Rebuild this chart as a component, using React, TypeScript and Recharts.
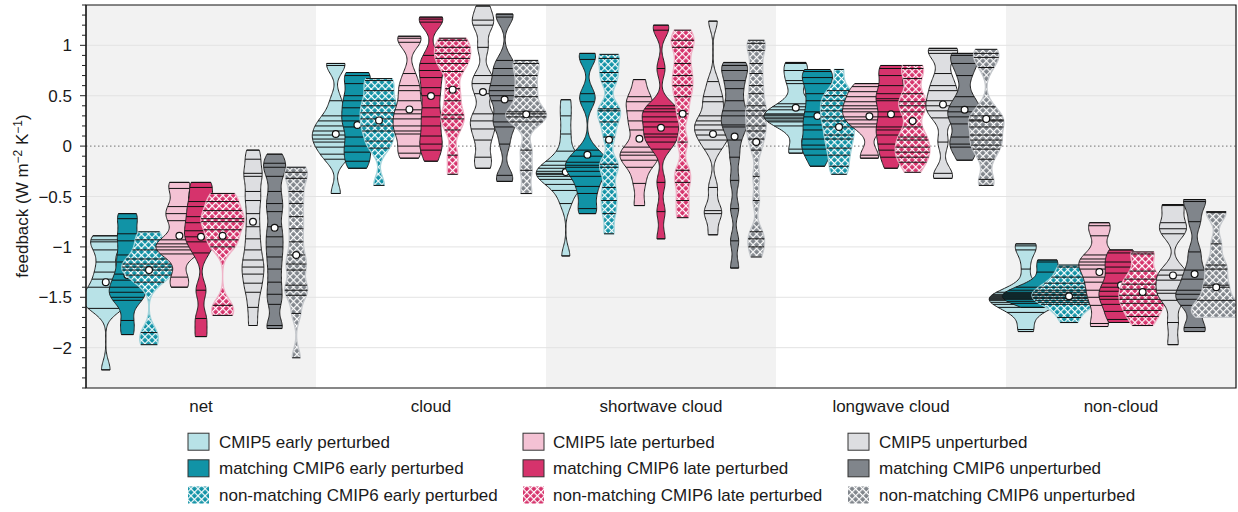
import React from 'react';
import {
  ComposedChart,
  XAxis,
  YAxis,
  Scatter,
  ReferenceLine,
  ReferenceArea,
  ReferenceDot
} from 'recharts';

const W = 1238;
const H = 512;
const FONT = '"Liberation Sans", Arial, Helvetica, sans-serif';

const categories = ['net', 'cloud', 'shortwave cloud', 'longwave cloud', 'non-cloud'];

const seriesNames = [
  'CMIP5 early perturbed',
  'matching CMIP6 early perturbed',
  'non-matching CMIP6 early perturbed',
  'CMIP5 late perturbed',
  'matching CMIP6 late perturbed',
  'non-matching CMIP6 late perturbed',
  'CMIP5 unperturbed',
  'matching CMIP6 unperturbed',
  'non-matching CMIP6 unperturbed'
];

// feedback of each model (W m-2 K-1), one list per violin, in legend order
const netValues = [
  [-0.89, -0.93, -0.95, -1.03, -1.15, -1.25, -1.32, -1.4, -1.45, -1.49, -1.52, -1.56, -1.59, -1.61, -2.22],
  [-0.67, -0.72, -0.87, -0.94, -1.08, -1.15, -1.27, -1.33, -1.4, -1.45, -1.5, -1.53, -1.73, -1.87],
  [-0.85, -0.93, -1.03, -1.12, -1.17, -1.2, -1.23, -1.28, -1.35, -1.85, -1.97],
  [-0.36, -0.42, -0.6, -0.67, -0.74, -0.93, -0.97, -1.0, -1.03, -1.07, -1.3, -1.4],
  [-0.36, -0.41, -0.55, -0.6, -0.7, -0.76, -0.84, -0.9, -0.95, -1.06, -1.43, -1.71, -1.89],
  [-0.47, -0.55, -0.64, -0.72, -0.75, -0.83, -0.93, -1.0, -1.58, -1.68],
  [-0.04, -0.13, -0.27, -0.3, -0.45, -0.54, -0.67, -0.8, -0.92, -1.03, -1.13, -1.2, -1.27, -1.36, -1.45, -1.6, -1.78],
  [-0.08, -0.17, -0.21, -0.3, -0.45, -0.57, -0.65, -0.8, -0.9, -1.0, -1.1, -1.22, -1.35, -1.47, -1.57, -1.78, -1.81],
  [-0.21, -0.26, -0.32, -0.45, -0.57, -0.7, -0.82, -0.95, -1.08, -1.17, -1.23, -1.38, -1.43, -1.48, -1.66, -2.1]
];
const cloudValues = [
  [0.82, 0.8, 0.45, 0.3, 0.25, 0.2, 0.15, 0.11, 0.07, 0.04, -0.01, -0.08, -0.13, -0.47],
  [0.73, 0.7, 0.62, 0.5, 0.45, 0.38, 0.3, 0.25, 0.19, 0.09, 0.0, -0.06, -0.15, -0.22],
  [0.67, 0.65, 0.55, 0.45, 0.4, 0.33, 0.27, 0.2, 0.15, 0.05, -0.02, -0.39],
  [1.09, 1.07, 1.03, 0.72, 0.6, 0.55, 0.45, 0.36, 0.32, 0.27, 0.2, 0.15, 0.12, 0.0, -0.07, -0.12],
  [1.28, 1.26, 1.23, 0.9, 0.82, 0.75, 0.68, 0.58, 0.5, 0.38, 0.29, 0.2, 0.1, 0.02, -0.04, -0.15],
  [1.07, 1.05, 0.98, 0.92, 0.87, 0.82, 0.74, 0.57, 0.45, 0.31, 0.27, 0.16, -0.09, -0.28],
  [1.39, 1.25, 1.2, 0.98, 0.7, 0.62, 0.52, 0.32, 0.25, 0.17, 0.06, -0.11, -0.22],
  [1.31, 1.28, 0.85, 0.77, 0.7, 0.6, 0.55, 0.5, 0.45, 0.32, 0.24, 0.19, 0.02, -0.29, -0.35],
  [0.85, 0.82, 0.7, 0.58, 0.49, 0.34, 0.32, 0.29, 0.24, -0.04, -0.24, -0.47]
];
const swCloudValues = [
  [0.46, 0.3, 0.12, -0.05, -0.15, -0.19, -0.22, -0.25, -0.27, -0.28, -0.3, -0.33, -0.38, -0.44, -0.57, -1.09],
  [0.92, 0.86, 0.52, 0.44, -0.04, -0.1, -0.16, -0.19, -0.21, -0.25, -0.3, -0.4, -0.47, -0.62, -0.67],
  [0.91, 0.87, 0.73, 0.64, 0.37, 0.35, 0.24, 0.09, -0.18, -0.21, -0.41, -0.54, -0.67, -0.87],
  [0.66, 0.49, 0.44, 0.35, 0.25, 0.16, -0.01, -0.06, -0.09, -0.14, -0.21, -0.37, -0.59],
  [1.2, 1.15, 0.77, 0.4, 0.37, 0.34, 0.29, 0.24, 0.19, 0.12, 0.09, 0.04, -0.03, -0.36, -0.65, -0.92],
  [1.15, 1.05, 0.98, 0.82, 0.7, 0.6, 0.49, 0.32, 0.04, -0.24, -0.36, -0.54, -0.71],
  [1.24, 0.64, 0.49, 0.44, 0.3, 0.25, 0.21, 0.16, 0.11, 0.06, -0.03, -0.41, -0.64, -0.67, -0.88],
  [0.83, 0.8, 0.75, 0.65, 0.57, 0.45, 0.35, 0.3, 0.21, 0.19, 0.06, -0.11, -0.34, -0.62, -0.94, -1.21],
  [1.05, 1.02, 0.95, 0.82, 0.72, 0.6, 0.52, 0.4, 0.35, 0.3, 0.2, 0.15, 0.07, -0.04, -0.3, -0.54, -0.85, -0.92, -1.0, -1.1]
];
const lwCloudValues = [
  [0.83, 0.82, 0.75, 0.65, 0.62, 0.42, 0.39, 0.36, 0.32, 0.31, 0.3, 0.28, 0.27, 0.25, 0.24, 0.2, -0.03, -0.07],
  [0.76, 0.74, 0.68, 0.62, 0.52, 0.45, 0.34, 0.29, 0.21, 0.16, 0.07, 0.01, -0.03, -0.09, -0.2],
  [0.76, 0.55, 0.5, 0.45, 0.4, 0.35, 0.29, 0.25, 0.19, 0.11, 0.07, -0.02, -0.09, -0.2, -0.28],
  [0.62, 0.59, 0.54, 0.49, 0.44, 0.4, 0.37, 0.34, 0.29, 0.26, 0.22, 0.19, -0.09, -0.12],
  [0.8, 0.77, 0.7, 0.6, 0.52, 0.47, 0.45, 0.34, 0.29, 0.19, 0.16, 0.11, 0.02, -0.04, -0.11, -0.22],
  [0.8, 0.77, 0.67, 0.52, 0.44, 0.4, 0.34, 0.19, 0.09, 0.06, -0.01, -0.06, -0.11, -0.16, -0.26],
  [0.97, 0.95, 0.92, 0.72, 0.6, 0.55, 0.45, 0.4, 0.35, 0.28, 0.04, -0.27, -0.32],
  [0.92, 0.9, 0.82, 0.7, 0.49, 0.39, 0.34, 0.29, 0.22, 0.09, 0.02, -0.01, -0.14],
  [0.96, 0.92, 0.88, 0.78, 0.39, 0.3, 0.26, 0.25, 0.19, 0.11, 0.06, 0.01, -0.03, -0.13, -0.33, -0.39]
];
const nonCloudValues = [
  [-0.97, -0.99, -1.03, -1.22, -1.45, -1.47, -1.48, -1.49, -1.5, -1.51, -1.52, -1.53, -1.55, -1.57, -1.6, -1.65, -1.82, -1.84],
  [-1.13, -1.15, -1.25, -1.4, -1.43, -1.45, -1.46, -1.47, -1.48, -1.49, -1.5, -1.51, -1.52, -1.54, -1.56, -1.6],
  [-1.18, -1.2, -1.3, -1.36, -1.4, -1.43, -1.45, -1.47, -1.48, -1.5, -1.51, -1.53, -1.55, -1.57, -1.7, -1.75],
  [-0.76, -0.79, -0.89, -1.08, -1.12, -1.15, -1.18, -1.22, -1.3, -1.35, -1.43, -1.5, -1.58, -1.76, -1.79],
  [-1.03, -1.06, -1.15, -1.2, -1.26, -1.36, -1.4, -1.44, -1.49, -1.52, -1.57, -1.64, -1.72, -1.75],
  [-1.05, -1.07, -1.24, -1.32, -1.37, -1.42, -1.48, -1.52, -1.56, -1.63, -1.69, -1.78],
  [-0.58, -0.59, -0.76, -0.82, -0.87, -1.23, -1.28, -1.33, -1.43, -1.46, -1.53, -1.75, -1.97],
  [-0.53, -0.55, -0.75, -1.05, -1.23, -1.32, -1.43, -1.47, -1.52, -1.58, -1.8, -1.84],
  [-0.65, -0.66, -0.97, -1.18, -1.22, -1.38, -1.4, -1.53, -1.58, -1.62, -1.65, -1.68, -1.7]
];

// ensemble means (white dots)
const netMeans = [-1.35, -1.28, -1.23, -0.89, -0.9, -0.89, -0.75, -0.81, -1.08];
const cloudMeans = [0.12, 0.21, 0.255, 0.364, 0.496, 0.56, 0.536, 0.463, 0.315];
const swCloudMeans = [-0.258, -0.086, 0.063, 0.073, 0.182, 0.321, 0.12, 0.096, 0.04];
const lwCloudMeans = [0.38, 0.298, 0.19, 0.295, 0.315, 0.248, 0.414, 0.36, 0.27];
const nonCloudMeans = [-1.5, -1.46, -1.49, -1.25, -1.38, -1.448, -1.283, -1.27, -1.4];

const groupValues = [netValues, cloudValues, swCloudValues, lwCloudValues, nonCloudValues];
const groupMeans = [netMeans, cloudMeans, swCloudMeans, lwCloudMeans, nonCloudMeans];

const yTicks = Array.from({ length: 39 }, (_, i) => (i - 24) / 10);
const gridValues = [-2, -1.5, -1, -0.5, 0.5, 1];

// styling
const tripletOffset = [-0.32, 0, 0.32];
const innerOffset = [-0.094, 0, 0.094];
const baseColors = ['#b8e2e7', '#1193a6', '#1193a6', '#f4c2d4', '#d6336c', '#d6336c', '#dddee1', '#80858b', '#80858b'];
const hatchIds = [null, null, 'hatch-teal', null, null, 'hatch-magenta', null, null, 'hatch-gray'];
const hatchEdge = ['', '', '#a3d5dc', '', '', '#efb3c7', '', '', '#c6c9cd'];
const BANDWIDTH = 0.09;
const WIDTH_SCALE = 14.5 / 230; // x units per unit of density

const density = (vals: number[], y: number) =>
  vals.reduce((a, v) => a + Math.exp(-0.5 * ((y - v) / BANDWIDTH) ** 2), 0) /
  (vals.length * BANDWIDTH * Math.sqrt(2 * Math.PI));

const violins = groupValues.flatMap((group, gi) =>
  group.map((vals, si) => {
    const center = gi + tripletOffset[Math.floor(si / 3)] + innerOffset[si % 3];
    const lo = Math.min(...vals);
    const hi = Math.max(...vals);
    const steps = Math.max(24, Math.ceil((hi - lo) / 0.012));
    const ys = Array.from({ length: steps + 1 }, (_, k) => lo + ((hi - lo) * k) / steps);
    const half = (y: number) => density(vals, y) * WIDTH_SCALE;
    const left = ys.map((y) => ({ x: center - half(y), y }));
    const right = ys.slice().reverse().map((y) => ({ x: center + half(y), y }));
    return {
      gi,
      si,
      center,
      outline: [...left, ...right, left[0]],
      lines: vals.map((v) => ({ v, w: half(v) })),
      mean: groupMeans[gi][si]
    };
  })
);

const fmt = (v: number) => {
  if (Math.abs(v) < 1e-9) return '0';
  const s = String(Math.round(Math.abs(v) * 10) / 10);
  return v < 0 ? '\u2212' + s : s;
};

const YTick = (props: any) => {
  const { x, y, payload } = props;
  const v = payload.value;
  const major = Math.abs(v * 2 - Math.round(v * 2)) < 1e-6;
  return (
    <g>
      <line x1={x} x2={x - (major ? 6 : 4)} y1={y} y2={y} stroke="#222" strokeWidth={1} />
      {major && (
        <text x={x - 14} y={y + 6} textAnchor="end" fontSize={17} fill="#1a1a1a" fontFamily={FONT}>
          {fmt(v)}
        </text>
      )}
    </g>
  );
};

const XTick = (props: any) => {
  const { x, y, payload } = props;
  return (
    <text x={x} y={y + 24} textAnchor="middle" fontSize={17} fill="#1a1a1a" fontFamily={FONT}>
      {categories[payload.value]}
    </text>
  );
};

const NoDot = () => <g />;

const Patterns = () => (
  <defs>
    {[
      ['hatch-teal', '#1193a6'],
      ['hatch-magenta', '#d6336c'],
      ['hatch-gray', '#80858b']
    ].map(([id, c]) => (
      <pattern key={id} id={id} patternUnits="userSpaceOnUse" width={5} height={5} patternTransform="rotate(45)">
        <rect width={5} height={5} fill={c} />
        <rect width={5} height={1.2} fill="#ffffff" />
        <rect width={1.2} height={5} fill="#ffffff" />
      </pattern>
    ))}
  </defs>
);

const swatchX = [188, 523, 848];
const textX = [219, 553, 879];
const rowY = [441.7, 468.3, 495];

export default function App() {
  const violinElements: React.ReactNode[] = [];
  violins.forEach((v, i) => {
    const z = 10 + i * 3;
    const hatched = hatchIds[v.si] !== null;
    violinElements.push(
      <Scatter
        key={`v-${i}`}
        data={v.outline}
        shape={NoDot}
        line={{
          fill: hatched ? `url(#${hatchIds[v.si]})` : baseColors[v.si],
          stroke: hatched ? hatchEdge[v.si] : '#222',
          strokeWidth: hatched ? 1.3 : 1
        }}
        lineJointType="linear"
        isAnimationActive={false}
        zIndex={z}
      />
    );
    v.lines.forEach((l, k) => {
      violinElements.push(
        <ReferenceLine
          key={`l-${i}-${k}`}
          segment={[
            { x: v.center - l.w, y: l.v },
            { x: v.center + l.w, y: l.v }
          ]}
          stroke="#111"
          strokeWidth={1}
          zIndex={z + 1}
        />
      );
    });
    violinElements.push(
      <ReferenceDot
        key={`m-${i}`}
        x={v.center}
        y={v.mean}
        r={3.4}
        fill="#ffffff"
        stroke="#111"
        strokeWidth={1.2}
        zIndex={z + 2}
      />
    );
  });

  return (
    <div
      style={{
        position: 'fixed',
        left: 0,
        top: 0,
        width: W,
        height: H,
        background: '#ffffff',
        fontFamily: FONT
      }}
    >
      <svg width={0} height={0} style={{ position: 'absolute' }}>
        <Patterns />
      </svg>
      <ComposedChart width={W} height={H} margin={{ top: 5, right: 2, bottom: 94, left: 0 }}>
        <XAxis
          type="number"
          dataKey="x"
          domain={[-0.5, 4.5]}
          ticks={[0, 1, 2, 3, 4]}
          interval={0}
          tickLine={false}
          axisLine={false}
          tickSize={0}
          tickMargin={0}
          height={30}
          tick={(p: any) => <XTick {...p} />}
          allowDataOverflow
        />
        <YAxis
          type="number"
          dataKey="y"
          domain={[-2.4, 1.4]}
          ticks={yTicks}
          interval={0}
          tickLine={false}
          tickSize={0}
          tickMargin={0}
          width={86}
          axisLine={{ stroke: '#111' }}
          tick={(p: any) => <YTick {...p} />}
          allowDataOverflow
        />
        {[0, 2, 4].map((g) => (
          <ReferenceArea
            key={`band-${g}`}
            x1={g - 0.5}
            x2={g + 0.5}
            fill="#f2f2f2"
            fillOpacity={1}
            stroke="none"
            zIndex={1}
          />
        ))}
        {gridValues.map((g) => (
          <ReferenceLine key={`grid-${g}`} y={g} stroke="#e3e3e3" strokeWidth={1} zIndex={2} />
        ))}
        <ReferenceLine y={0} stroke="#8c8c8c" strokeWidth={1.3} strokeDasharray="1.5 2.5" zIndex={3} />
        {violinElements}
        <ReferenceArea
          x1={-0.5}
          x2={4.5}
          y1={-2.4}
          y2={1.4}
          fill="none"
          fillOpacity={0}
          stroke="#111"
          strokeWidth={1.2}
          ifOverflow="visible"
          zIndex={1000}
        />
      </ComposedChart>
      <svg width={W} height={H} style={{ position: 'absolute', left: 0, top: 0, pointerEvents: 'none' }}>
        <text transform="translate(28,196) rotate(-90)" textAnchor="middle" fontSize={17} fill="#1a1a1a">
          feedback (W m
          <tspan dy={-6} fontSize={12}>
            {'\u22122'}
          </tspan>
          <tspan dy={6}> K</tspan>
          <tspan dy={-6} fontSize={12}>
            {'\u22121'}
          </tspan>
          <tspan dy={6}>)</tspan>
        </text>
        {seriesNames.map((name, s) => {
          const col = Math.floor(s / 3);
          const row = s % 3;
          const hatched = hatchIds[s] !== null;
          return (
            <g key={name}>
              <rect
                x={swatchX[col]}
                y={rowY[row] - 8.5}
                width={21}
                height={17}
                fill={hatched ? `url(#${hatchIds[s]})` : baseColors[s]}
                stroke={hatched ? 'none' : '#333'}
                strokeWidth={1}
              />
              <text x={textX[col]} y={rowY[row] + 6} fontSize={17} fill="#1a1a1a">
                {name}
              </text>
            </g>
          );
        })}
      </svg>
    </div>
  );
}
